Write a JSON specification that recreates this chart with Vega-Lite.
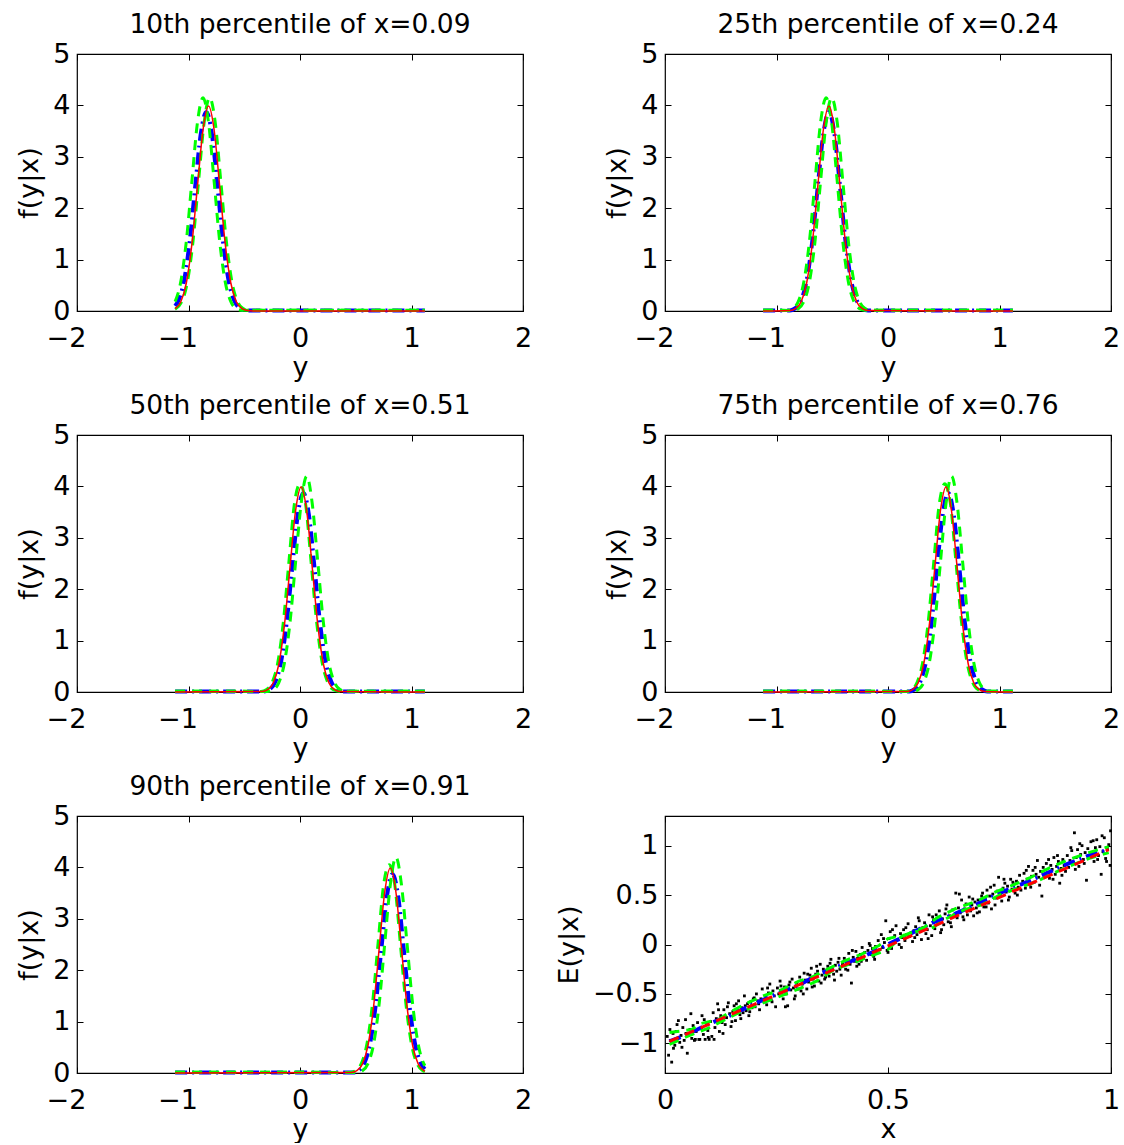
{
"$schema":"https://vega.github.io/schema/vega-lite/v6.json",
"background":"white",
"padding":{"left":15,"top":10,"right":0,"bottom":0},
"columns":2,
"spacing":{"row":124,"column":142},
"bounds":"flush",
"config":{
 "font":"DejaVu Sans",
 "view":{"stroke":"black","strokeWidth":1.2},
 "axis":{"grid":false,"domain":false,"tickColor":"black","tickSize":-6,"tickWidth":1,"labelFont":"DejaVu Sans","labelFontSize":27,"labelColor":"black","titleFont":"DejaVu Sans","titleFontSize":27,"titleFontWeight":"normal","titleColor":"black","labelFlush":false,"labelOverlap":false,"labelBound":false},
 "axisX":{"labelPadding":20,"titlePadding":3},
 "axisY":{"labelPadding":13,"titlePadding":9},
 "title":{"font":"DejaVu Sans","fontSize":26.5,"fontWeight":"normal","color":"black","baseline":"alphabetic","offset":2,"frame":"group"}
},
"datasets":{
"dens":[
{"p":1,"s":"est","y":-1.12,"f":0.096},{"p":1,"s":"est","y":-1.09,"f":0.204},{"p":1,"s":"est","y":-1.04,"f":0.588},{"p":1,"s":"est","y":-0.99,"f":1.341},{"p":1,"s":"est","y":-0.94,"f":2.418},{"p":1,"s":"est","y":-0.89,"f":3.443},{"p":1,"s":"est","y":-0.84,"f":3.873},{"p":1,"s":"est","y":-0.79,"f":3.443},{"p":1,"s":"est","y":-0.74,"f":2.418},{"p":1,"s":"est","y":-0.69,"f":1.341},{"p":1,"s":"est","y":-0.64,"f":0.588},{"p":1,"s":"est","y":-0.59,"f":0.204},{"p":1,"s":"est","y":-0.54,"f":0.056},{"p":1,"s":"est","y":-0.49,"f":0.012},{"p":1,"s":"est","y":-0.44,"f":0.01},{"p":1,"s":"est","y":1.12,"f":0.01},
{"p":1,"s":"lo","y":-1.12,"f":0.182},{"p":1,"s":"lo","y":-1.07,"f":0.562},{"p":1,"s":"lo","y":-1.02,"f":1.347},{"p":1,"s":"lo","y":-0.97,"f":2.517},{"p":1,"s":"lo","y":-0.92,"f":3.662},{"p":1,"s":"lo","y":-0.87,"f":4.149},{"p":1,"s":"lo","y":-0.82,"f":3.662},{"p":1,"s":"lo","y":-0.77,"f":2.517},{"p":1,"s":"lo","y":-0.72,"f":1.347},{"p":1,"s":"lo","y":-0.67,"f":0.562},{"p":1,"s":"lo","y":-0.62,"f":0.182},{"p":1,"s":"lo","y":-0.57,"f":0.046},{"p":1,"s":"lo","y":-0.52,"f":0.015},{"p":1,"s":"lo","y":1.12,"f":0.015},
{"p":1,"s":"hi","y":-1.12,"f":0.034},{"p":1,"s":"hi","y":-1.06,"f":0.182},{"p":1,"s":"hi","y":-1.01,"f":0.562},{"p":1,"s":"hi","y":-0.96,"f":1.347},{"p":1,"s":"hi","y":-0.91,"f":2.517},{"p":1,"s":"hi","y":-0.86,"f":3.662},{"p":1,"s":"hi","y":-0.81,"f":4.149},{"p":1,"s":"hi","y":-0.76,"f":3.662},{"p":1,"s":"hi","y":-0.71,"f":2.517},{"p":1,"s":"hi","y":-0.66,"f":1.347},{"p":1,"s":"hi","y":-0.61,"f":0.562},{"p":1,"s":"hi","y":-0.56,"f":0.182},{"p":1,"s":"hi","y":-0.51,"f":0.046},{"p":1,"s":"hi","y":-0.46,"f":0.015},{"p":1,"s":"hi","y":1.12,"f":0.015},
{"p":1,"s":"true","y":-1.12,"f":0.044},{"p":1,"s":"true","y":-1.07,"f":0.175},{"p":1,"s":"true","y":-1.02,"f":0.54},{"p":1,"s":"true","y":-0.97,"f":1.295},{"p":1,"s":"true","y":-0.92,"f":2.42},{"p":1,"s":"true","y":-0.87,"f":3.521},{"p":1,"s":"true","y":-0.82,"f":3.989},{"p":1,"s":"true","y":-0.77,"f":3.521},{"p":1,"s":"true","y":-0.72,"f":2.42},{"p":1,"s":"true","y":-0.67,"f":1.295},{"p":1,"s":"true","y":-0.62,"f":0.54},{"p":1,"s":"true","y":-0.57,"f":0.175},{"p":1,"s":"true","y":-0.52,"f":0.044},{"p":1,"s":"true","y":-0.47,"f":0.009},{"p":1,"s":"true","y":-0.42,"f":0.001},{"p":1,"s":"true","y":1.12,"f":0},

{"p":2,"s":"est","y":-1.12,"f":0.01},{"p":2,"s":"est","y":-0.88,"f":0.012},{"p":2,"s":"est","y":-0.83,"f":0.056},{"p":2,"s":"est","y":-0.78,"f":0.204},{"p":2,"s":"est","y":-0.73,"f":0.588},{"p":2,"s":"est","y":-0.68,"f":1.341},{"p":2,"s":"est","y":-0.63,"f":2.418},{"p":2,"s":"est","y":-0.58,"f":3.443},{"p":2,"s":"est","y":-0.53,"f":3.873},{"p":2,"s":"est","y":-0.48,"f":3.443},{"p":2,"s":"est","y":-0.43,"f":2.418},{"p":2,"s":"est","y":-0.38,"f":1.341},{"p":2,"s":"est","y":-0.33,"f":0.588},{"p":2,"s":"est","y":-0.28,"f":0.204},{"p":2,"s":"est","y":-0.23,"f":0.056},{"p":2,"s":"est","y":-0.18,"f":0.012},{"p":2,"s":"est","y":1.12,"f":0.01},
{"p":2,"s":"lo","y":-1.12,"f":0.015},{"p":2,"s":"lo","y":-0.905,"f":0.012},{"p":2,"s":"lo","y":-0.855,"f":0.046},{"p":2,"s":"lo","y":-0.805,"f":0.182},{"p":2,"s":"lo","y":-0.755,"f":0.562},{"p":2,"s":"lo","y":-0.705,"f":1.347},{"p":2,"s":"lo","y":-0.655,"f":2.517},{"p":2,"s":"lo","y":-0.605,"f":3.662},{"p":2,"s":"lo","y":-0.555,"f":4.149},{"p":2,"s":"lo","y":-0.505,"f":3.662},{"p":2,"s":"lo","y":-0.455,"f":2.517},{"p":2,"s":"lo","y":-0.405,"f":1.347},{"p":2,"s":"lo","y":-0.355,"f":0.562},{"p":2,"s":"lo","y":-0.305,"f":0.182},{"p":2,"s":"lo","y":-0.255,"f":0.046},{"p":2,"s":"lo","y":-0.205,"f":0.015},{"p":2,"s":"lo","y":1.12,"f":0.015},
{"p":2,"s":"hi","y":-1.12,"f":0.015},{"p":2,"s":"hi","y":-0.855,"f":0.012},{"p":2,"s":"hi","y":-0.805,"f":0.046},{"p":2,"s":"hi","y":-0.755,"f":0.182},{"p":2,"s":"hi","y":-0.705,"f":0.562},{"p":2,"s":"hi","y":-0.655,"f":1.347},{"p":2,"s":"hi","y":-0.605,"f":2.517},{"p":2,"s":"hi","y":-0.555,"f":3.662},{"p":2,"s":"hi","y":-0.505,"f":4.149},{"p":2,"s":"hi","y":-0.455,"f":3.662},{"p":2,"s":"hi","y":-0.405,"f":2.517},{"p":2,"s":"hi","y":-0.355,"f":1.347},{"p":2,"s":"hi","y":-0.305,"f":0.562},{"p":2,"s":"hi","y":-0.255,"f":0.182},{"p":2,"s":"hi","y":-0.205,"f":0.046},{"p":2,"s":"hi","y":-0.155,"f":0.015},{"p":2,"s":"hi","y":1.12,"f":0.015},
{"p":2,"s":"true","y":-1.12,"f":0},{"p":2,"s":"true","y":-0.88,"f":0.009},{"p":2,"s":"true","y":-0.83,"f":0.044},{"p":2,"s":"true","y":-0.78,"f":0.175},{"p":2,"s":"true","y":-0.73,"f":0.54},{"p":2,"s":"true","y":-0.68,"f":1.295},{"p":2,"s":"true","y":-0.63,"f":2.42},{"p":2,"s":"true","y":-0.58,"f":3.521},{"p":2,"s":"true","y":-0.53,"f":3.989},{"p":2,"s":"true","y":-0.48,"f":3.521},{"p":2,"s":"true","y":-0.43,"f":2.42},{"p":2,"s":"true","y":-0.38,"f":1.295},{"p":2,"s":"true","y":-0.33,"f":0.54},{"p":2,"s":"true","y":-0.28,"f":0.175},{"p":2,"s":"true","y":-0.23,"f":0.044},{"p":2,"s":"true","y":-0.18,"f":0.009},{"p":2,"s":"true","y":1.12,"f":0},

{"p":3,"s":"est","y":-1.12,"f":0.01},{"p":3,"s":"est","y":-0.32,"f":0.012},{"p":3,"s":"est","y":-0.27,"f":0.056},{"p":3,"s":"est","y":-0.22,"f":0.204},{"p":3,"s":"est","y":-0.17,"f":0.588},{"p":3,"s":"est","y":-0.12,"f":1.341},{"p":3,"s":"est","y":-0.07,"f":2.418},{"p":3,"s":"est","y":-0.02,"f":3.443},{"p":3,"s":"est","y":0.03,"f":3.873},{"p":3,"s":"est","y":0.08,"f":3.443},{"p":3,"s":"est","y":0.13,"f":2.418},{"p":3,"s":"est","y":0.18,"f":1.341},{"p":3,"s":"est","y":0.23,"f":0.588},{"p":3,"s":"est","y":0.28,"f":0.204},{"p":3,"s":"est","y":0.33,"f":0.056},{"p":3,"s":"est","y":0.38,"f":0.012},{"p":3,"s":"est","y":1.12,"f":0.01},
{"p":3,"s":"lo","y":-1.12,"f":0.015},{"p":3,"s":"lo","y":-0.35,"f":0.012},{"p":3,"s":"lo","y":-0.3,"f":0.046},{"p":3,"s":"lo","y":-0.25,"f":0.182},{"p":3,"s":"lo","y":-0.2,"f":0.562},{"p":3,"s":"lo","y":-0.15,"f":1.347},{"p":3,"s":"lo","y":-0.1,"f":2.517},{"p":3,"s":"lo","y":-0.05,"f":3.662},{"p":3,"s":"lo","y":0.0,"f":4.05},{"p":3,"s":"lo","y":0.05,"f":3.662},{"p":3,"s":"lo","y":0.1,"f":2.517},{"p":3,"s":"lo","y":0.15,"f":1.347},{"p":3,"s":"lo","y":0.2,"f":0.562},{"p":3,"s":"lo","y":0.25,"f":0.182},{"p":3,"s":"lo","y":0.3,"f":0.046},{"p":3,"s":"lo","y":0.35,"f":0.015},{"p":3,"s":"lo","y":1.12,"f":0.015},
{"p":3,"s":"hi","y":-1.12,"f":0.015},{"p":3,"s":"hi","y":-0.29,"f":0.012},{"p":3,"s":"hi","y":-0.24,"f":0.046},{"p":3,"s":"hi","y":-0.19,"f":0.182},{"p":3,"s":"hi","y":-0.14,"f":0.562},{"p":3,"s":"hi","y":-0.09,"f":1.347},{"p":3,"s":"hi","y":-0.04,"f":2.517},{"p":3,"s":"hi","y":0.01,"f":3.662},{"p":3,"s":"hi","y":0.06,"f":4.2},{"p":3,"s":"hi","y":0.11,"f":3.662},{"p":3,"s":"hi","y":0.16,"f":2.517},{"p":3,"s":"hi","y":0.21,"f":1.347},{"p":3,"s":"hi","y":0.26,"f":0.562},{"p":3,"s":"hi","y":0.31,"f":0.182},{"p":3,"s":"hi","y":0.36,"f":0.046},{"p":3,"s":"hi","y":0.41,"f":0.015},{"p":3,"s":"hi","y":1.12,"f":0.015},
{"p":3,"s":"true","y":-1.12,"f":0},{"p":3,"s":"true","y":-0.34,"f":0.009},{"p":3,"s":"true","y":-0.29,"f":0.044},{"p":3,"s":"true","y":-0.24,"f":0.175},{"p":3,"s":"true","y":-0.19,"f":0.54},{"p":3,"s":"true","y":-0.14,"f":1.295},{"p":3,"s":"true","y":-0.09,"f":2.42},{"p":3,"s":"true","y":-0.04,"f":3.521},{"p":3,"s":"true","y":0.01,"f":3.989},{"p":3,"s":"true","y":0.06,"f":3.521},{"p":3,"s":"true","y":0.11,"f":2.42},{"p":3,"s":"true","y":0.16,"f":1.295},{"p":3,"s":"true","y":0.21,"f":0.54},{"p":3,"s":"true","y":0.26,"f":0.175},{"p":3,"s":"true","y":0.31,"f":0.044},{"p":3,"s":"true","y":0.36,"f":0.009},{"p":3,"s":"true","y":1.12,"f":0},

{"p":4,"s":"est","y":-1.12,"f":0.01},{"p":4,"s":"est","y":0.19,"f":0.012},{"p":4,"s":"est","y":0.24,"f":0.056},{"p":4,"s":"est","y":0.29,"f":0.204},{"p":4,"s":"est","y":0.34,"f":0.588},{"p":4,"s":"est","y":0.39,"f":1.341},{"p":4,"s":"est","y":0.44,"f":2.418},{"p":4,"s":"est","y":0.49,"f":3.443},{"p":4,"s":"est","y":0.54,"f":3.873},{"p":4,"s":"est","y":0.59,"f":3.443},{"p":4,"s":"est","y":0.64,"f":2.418},{"p":4,"s":"est","y":0.69,"f":1.341},{"p":4,"s":"est","y":0.74,"f":0.588},{"p":4,"s":"est","y":0.79,"f":0.204},{"p":4,"s":"est","y":0.84,"f":0.056},{"p":4,"s":"est","y":0.89,"f":0.012},{"p":4,"s":"est","y":1.12,"f":0.01},
{"p":4,"s":"lo","y":-1.12,"f":0.015},{"p":4,"s":"lo","y":0.16,"f":0.012},{"p":4,"s":"lo","y":0.21,"f":0.046},{"p":4,"s":"lo","y":0.26,"f":0.182},{"p":4,"s":"lo","y":0.31,"f":0.562},{"p":4,"s":"lo","y":0.36,"f":1.347},{"p":4,"s":"lo","y":0.41,"f":2.517},{"p":4,"s":"lo","y":0.46,"f":3.662},{"p":4,"s":"lo","y":0.51,"f":4.05},{"p":4,"s":"lo","y":0.56,"f":3.662},{"p":4,"s":"lo","y":0.61,"f":2.517},{"p":4,"s":"lo","y":0.66,"f":1.347},{"p":4,"s":"lo","y":0.71,"f":0.562},{"p":4,"s":"lo","y":0.76,"f":0.182},{"p":4,"s":"lo","y":0.81,"f":0.046},{"p":4,"s":"lo","y":0.86,"f":0.015},{"p":4,"s":"lo","y":1.12,"f":0.015},
{"p":4,"s":"hi","y":-1.12,"f":0.015},{"p":4,"s":"hi","y":0.22,"f":0.012},{"p":4,"s":"hi","y":0.27,"f":0.046},{"p":4,"s":"hi","y":0.32,"f":0.182},{"p":4,"s":"hi","y":0.37,"f":0.562},{"p":4,"s":"hi","y":0.42,"f":1.347},{"p":4,"s":"hi","y":0.47,"f":2.517},{"p":4,"s":"hi","y":0.52,"f":3.662},{"p":4,"s":"hi","y":0.57,"f":4.2},{"p":4,"s":"hi","y":0.62,"f":3.662},{"p":4,"s":"hi","y":0.67,"f":2.517},{"p":4,"s":"hi","y":0.72,"f":1.347},{"p":4,"s":"hi","y":0.77,"f":0.562},{"p":4,"s":"hi","y":0.82,"f":0.182},{"p":4,"s":"hi","y":0.87,"f":0.046},{"p":4,"s":"hi","y":0.92,"f":0.015},{"p":4,"s":"hi","y":1.12,"f":0.015},
{"p":4,"s":"true","y":-1.12,"f":0},{"p":4,"s":"true","y":0.17,"f":0.009},{"p":4,"s":"true","y":0.22,"f":0.044},{"p":4,"s":"true","y":0.27,"f":0.175},{"p":4,"s":"true","y":0.32,"f":0.54},{"p":4,"s":"true","y":0.37,"f":1.295},{"p":4,"s":"true","y":0.42,"f":2.42},{"p":4,"s":"true","y":0.47,"f":3.521},{"p":4,"s":"true","y":0.52,"f":3.989},{"p":4,"s":"true","y":0.57,"f":3.521},{"p":4,"s":"true","y":0.62,"f":2.42},{"p":4,"s":"true","y":0.67,"f":1.295},{"p":4,"s":"true","y":0.72,"f":0.54},{"p":4,"s":"true","y":0.77,"f":0.175},{"p":4,"s":"true","y":0.82,"f":0.044},{"p":4,"s":"true","y":0.87,"f":0.009},{"p":4,"s":"true","y":1.12,"f":0},

{"p":5,"s":"est","y":-1.12,"f":0.01},{"p":5,"s":"est","y":0.48,"f":0.012},{"p":5,"s":"est","y":0.53,"f":0.056},{"p":5,"s":"est","y":0.58,"f":0.204},{"p":5,"s":"est","y":0.63,"f":0.588},{"p":5,"s":"est","y":0.68,"f":1.341},{"p":5,"s":"est","y":0.73,"f":2.418},{"p":5,"s":"est","y":0.78,"f":3.443},{"p":5,"s":"est","y":0.83,"f":3.873},{"p":5,"s":"est","y":0.88,"f":3.443},{"p":5,"s":"est","y":0.93,"f":2.418},{"p":5,"s":"est","y":0.98,"f":1.341},{"p":5,"s":"est","y":1.03,"f":0.588},{"p":5,"s":"est","y":1.08,"f":0.204},{"p":5,"s":"est","y":1.12,"f":0.074},
{"p":5,"s":"lo","y":-1.12,"f":0.015},{"p":5,"s":"lo","y":0.45,"f":0.012},{"p":5,"s":"lo","y":0.5,"f":0.046},{"p":5,"s":"lo","y":0.55,"f":0.182},{"p":5,"s":"lo","y":0.6,"f":0.562},{"p":5,"s":"lo","y":0.65,"f":1.347},{"p":5,"s":"lo","y":0.7,"f":2.517},{"p":5,"s":"lo","y":0.75,"f":3.662},{"p":5,"s":"lo","y":0.8,"f":4.05},{"p":5,"s":"lo","y":0.85,"f":3.662},{"p":5,"s":"lo","y":0.9,"f":2.517},{"p":5,"s":"lo","y":0.95,"f":1.347},{"p":5,"s":"lo","y":1.0,"f":0.562},{"p":5,"s":"lo","y":1.05,"f":0.182},{"p":5,"s":"lo","y":1.1,"f":0.046},{"p":5,"s":"lo","y":1.12,"f":0.025},
{"p":5,"s":"hi","y":-1.12,"f":0.015},{"p":5,"s":"hi","y":0.51,"f":0.012},{"p":5,"s":"hi","y":0.56,"f":0.046},{"p":5,"s":"hi","y":0.61,"f":0.182},{"p":5,"s":"hi","y":0.66,"f":0.562},{"p":5,"s":"hi","y":0.71,"f":1.347},{"p":5,"s":"hi","y":0.76,"f":2.517},{"p":5,"s":"hi","y":0.81,"f":3.662},{"p":5,"s":"hi","y":0.86,"f":4.2},{"p":5,"s":"hi","y":0.91,"f":3.662},{"p":5,"s":"hi","y":0.96,"f":2.517},{"p":5,"s":"hi","y":1.01,"f":1.347},{"p":5,"s":"hi","y":1.06,"f":0.562},{"p":5,"s":"hi","y":1.11,"f":0.182},{"p":5,"s":"hi","y":1.12,"f":0.141},
{"p":5,"s":"true","y":-1.12,"f":0},{"p":5,"s":"true","y":0.46,"f":0.009},{"p":5,"s":"true","y":0.51,"f":0.044},{"p":5,"s":"true","y":0.56,"f":0.175},{"p":5,"s":"true","y":0.61,"f":0.54},{"p":5,"s":"true","y":0.66,"f":1.295},{"p":5,"s":"true","y":0.71,"f":2.42},{"p":5,"s":"true","y":0.76,"f":3.521},{"p":5,"s":"true","y":0.81,"f":3.989},{"p":5,"s":"true","y":0.86,"f":3.521},{"p":5,"s":"true","y":0.91,"f":2.42},{"p":5,"s":"true","y":0.96,"f":1.295},{"p":5,"s":"true","y":1.01,"f":0.54},{"p":5,"s":"true","y":1.06,"f":0.175},{"p":5,"s":"true","y":1.11,"f":0.044},{"p":5,"s":"true","y":1.12,"f":0.033}
],
"pts":[
{"x":0.005,"y":-0.93},{"x":0.008,"y":-1.12},{"x":0.012,"y":-0.97},{"x":0.015,"y":-1.19},{"x":0.018,"y":-0.9},{"x":0.022,"y":-1.02},{"x":0.025,"y":-0.88},{"x":0.028,"y":-0.95},{"x":0.03,"y":-0.77},{"x":0.033,"y":-0.99},{"x":0.036,"y":-0.92},{"x":0.04,"y":-0.84},{"x":0.043,"y":-0.97},{"x":0.046,"y":-0.76},{"x":0.05,"y":-1.1},{"x":0.053,"y":-0.9},{"x":0.056,"y":-0.86},{"x":0.06,"y":-0.95},{"x":0.063,"y":-0.82},{"x":0.066,"y":-0.97},{"x":0.07,"y":-0.88},{"x":0.073,"y":-0.79},{"x":0.076,"y":-0.96},{"x":0.08,"y":-0.85},{"x":0.083,"y":-0.72},{"x":0.086,"y":-0.91},{"x":0.09,"y":-0.96},{"x":0.093,"y":-0.8},{"x":0.096,"y":-0.87},{"x":0.099,"y":-0.96},
{"x":0.102,"y":-0.78},{"x":0.105,"y":-0.93},{"x":0.108,"y":-0.69},{"x":0.112,"y":-0.84},{"x":0.115,"y":-0.75},{"x":0.118,"y":-0.6},{"x":0.122,"y":-0.88},{"x":0.125,"y":-0.72},{"x":0.128,"y":-0.79},{"x":0.132,"y":-0.66},{"x":0.135,"y":-0.81},{"x":0.138,"y":-0.74},{"x":0.142,"y":-0.59},{"x":0.145,"y":-0.7},{"x":0.148,"y":-0.83},{"x":0.152,"y":-0.68},{"x":0.155,"y":-0.62},{"x":0.158,"y":-0.77},{"x":0.162,"y":-0.66},{"x":0.165,"y":-0.57},{"x":0.168,"y":-0.71},{"x":0.172,"y":-0.64},{"x":0.175,"y":-0.69},{"x":0.178,"y":-0.52},{"x":0.182,"y":-0.67},{"x":0.185,"y":-0.6},{"x":0.188,"y":-0.72},{"x":0.192,"y":-0.58},{"x":0.195,"y":-0.64},{"x":0.198,"y":-0.55},
{"x":0.202,"y":-0.63},{"x":0.205,"y":-0.5},{"x":0.208,"y":-0.57},{"x":0.212,"y":-0.66},{"x":0.215,"y":-0.55},{"x":0.218,"y":-0.45},{"x":0.222,"y":-0.58},{"x":0.225,"y":-0.52},{"x":0.228,"y":-0.61},{"x":0.232,"y":-0.49},{"x":0.235,"y":-0.4},{"x":0.238,"y":-0.56},{"x":0.242,"y":-0.47},{"x":0.245,"y":-0.52},{"x":0.248,"y":-0.63},{"x":0.252,"y":-0.44},{"x":0.255,"y":-0.5},{"x":0.258,"y":-0.37},{"x":0.262,"y":-0.48},{"x":0.265,"y":-0.55},{"x":0.268,"y":-0.43},{"x":0.272,"y":-0.5},{"x":0.275,"y":-0.62},{"x":0.278,"y":-0.41},{"x":0.282,"y":-0.46},{"x":0.285,"y":-0.35},{"x":0.288,"y":-0.44},{"x":0.292,"y":-0.52},{"x":0.295,"y":-0.39},{"x":0.298,"y":-0.45},
{"x":0.302,"y":-0.33},{"x":0.305,"y":-0.47},{"x":0.308,"y":-0.4},{"x":0.312,"y":-0.29},{"x":0.315,"y":-0.36},{"x":0.318,"y":-0.45},{"x":0.322,"y":-0.38},{"x":0.325,"y":-0.31},{"x":0.328,"y":-0.24},{"x":0.332,"y":-0.35},{"x":0.335,"y":-0.42},{"x":0.338,"y":-0.3},{"x":0.342,"y":-0.27},{"x":0.345,"y":-0.37},{"x":0.348,"y":-0.2},{"x":0.352,"y":-0.31},{"x":0.355,"y":-0.25},{"x":0.358,"y":-0.35},{"x":0.362,"y":-0.28},{"x":0.365,"y":-0.22},{"x":0.368,"y":-0.32},{"x":0.372,"y":-0.15},{"x":0.375,"y":-0.26},{"x":0.378,"y":-0.3},{"x":0.382,"y":-0.21},{"x":0.385,"y":-0.27},{"x":0.388,"y":-0.18},{"x":0.392,"y":-0.25},{"x":0.395,"y":-0.31},{"x":0.398,"y":-0.2},
{"x":0.402,"y":-0.14},{"x":0.405,"y":-0.25},{"x":0.408,"y":-0.18},{"x":0.412,"y":-0.09},{"x":0.415,"y":-0.2},{"x":0.418,"y":-0.39},{"x":0.422,"y":-0.13},{"x":0.425,"y":-0.17},{"x":0.428,"y":-0.07},{"x":0.432,"y":-0.14},{"x":0.435,"y":-0.2},{"x":0.438,"y":-0.1},{"x":0.442,"y":-0.03},{"x":0.445,"y":-0.13},{"x":0.448,"y":-0.08},{"x":0.452,"y":-0.16},{"x":0.455,"y":-0.06},{"x":0.458,"y":0.01},{"x":0.462,"y":-0.1},{"x":0.465,"y":-0.04},{"x":0.468,"y":-0.12},{"x":0.472,"y":-0.02},{"x":0.475,"y":-0.07},{"x":0.478,"y":0.04},{"x":0.482,"y":-0.05},{"x":0.485,"y":0.1},{"x":0.488,"y":-0.03},{"x":0.492,"y":0.02},{"x":0.495,"y":0.24},{"x":0.498,"y":-0.06},
{"x":0.502,"y":0.06},{"x":0.505,"y":0.13},{"x":0.508,"y":-0.04},{"x":0.512,"y":0.03},{"x":0.515,"y":0.09},{"x":0.518,"y":0.19},{"x":0.522,"y":0.05},{"x":0.525,"y":0.0},{"x":0.528,"y":0.11},{"x":0.532,"y":0.07},{"x":0.535,"y":0.15},{"x":0.538,"y":0.04},{"x":0.542,"y":0.1},{"x":0.545,"y":0.21},{"x":0.548,"y":0.08},{"x":0.552,"y":0.12},{"x":0.555,"y":0.03},{"x":0.558,"y":0.14},{"x":0.562,"y":0.18},{"x":0.565,"y":0.1},{"x":0.568,"y":0.27},{"x":0.572,"y":0.13},{"x":0.575,"y":0.05},{"x":0.578,"y":0.17},{"x":0.582,"y":0.22},{"x":0.585,"y":0.11},{"x":0.588,"y":0.15},{"x":0.592,"y":0.3},{"x":0.595,"y":0.19},{"x":0.598,"y":0.09},
{"x":0.602,"y":0.25},{"x":0.605,"y":0.16},{"x":0.608,"y":0.3},{"x":0.612,"y":0.21},{"x":0.615,"y":0.34},{"x":0.618,"y":0.12},{"x":0.622,"y":0.26},{"x":0.625,"y":0.2},{"x":0.628,"y":0.31},{"x":0.632,"y":0.4},{"x":0.635,"y":0.23},{"x":0.638,"y":0.29},{"x":0.642,"y":0.18},{"x":0.645,"y":0.35},{"x":0.648,"y":0.3},{"x":0.652,"y":0.52},{"x":0.655,"y":0.27},{"x":0.658,"y":0.37},{"x":0.662,"y":0.32},{"x":0.665,"y":0.45},{"x":0.668,"y":0.28},{"x":0.672,"y":0.36},{"x":0.675,"y":0.41},{"x":0.678,"y":0.3},{"x":0.682,"y":0.48},{"x":0.685,"y":0.34},{"x":0.688,"y":0.4},{"x":0.692,"y":0.29},{"x":0.695,"y":0.43},{"x":0.698,"y":0.37},
{"x":0.702,"y":0.45},{"x":0.705,"y":0.33},{"x":0.708,"y":0.41},{"x":0.712,"y":0.52},{"x":0.715,"y":0.38},{"x":0.718,"y":0.46},{"x":0.722,"y":0.55},{"x":0.725,"y":0.42},{"x":0.728,"y":0.49},{"x":0.732,"y":0.36},{"x":0.735,"y":0.51},{"x":0.738,"y":0.6},{"x":0.742,"y":0.47},{"x":0.745,"y":0.54},{"x":0.748,"y":0.68},{"x":0.752,"y":0.5},{"x":0.755,"y":0.44},{"x":0.758,"y":0.57},{"x":0.762,"y":0.62},{"x":0.765,"y":0.53},{"x":0.768,"y":0.59},{"x":0.772,"y":0.48},{"x":0.775,"y":0.66},{"x":0.778,"y":0.56},{"x":0.782,"y":0.61},{"x":0.785,"y":0.52},{"x":0.788,"y":0.64},{"x":0.792,"y":0.58},{"x":0.795,"y":0.7},{"x":0.798,"y":0.55},
{"x":0.802,"y":0.64},{"x":0.805,"y":0.72},{"x":0.808,"y":0.57},{"x":0.812,"y":0.66},{"x":0.815,"y":0.79},{"x":0.818,"y":0.61},{"x":0.822,"y":0.69},{"x":0.825,"y":0.75},{"x":0.828,"y":0.63},{"x":0.832,"y":0.71},{"x":0.835,"y":0.85},{"x":0.838,"y":0.68},{"x":0.842,"y":0.74},{"x":0.845,"y":0.49},{"x":0.848,"y":0.78},{"x":0.852,"y":0.7},{"x":0.855,"y":0.82},{"x":0.858,"y":0.73},{"x":0.862,"y":0.67},{"x":0.865,"y":0.8},{"x":0.868,"y":0.76},{"x":0.872,"y":0.88},{"x":0.875,"y":0.71},{"x":0.878,"y":0.79},{"x":0.882,"y":0.84},{"x":0.885,"y":0.62},{"x":0.888,"y":0.77},{"x":0.892,"y":0.86},{"x":0.895,"y":0.8},{"x":0.898,"y":0.74},
{"x":0.902,"y":0.9},{"x":0.905,"y":0.78},{"x":0.908,"y":0.85},{"x":0.912,"y":0.95},{"x":0.915,"y":0.83},{"x":0.918,"y":1.13},{"x":0.922,"y":0.88},{"x":0.925,"y":0.96},{"x":0.928,"y":0.79},{"x":0.932,"y":0.91},{"x":0.935,"y":1.0},{"x":0.938,"y":0.86},{"x":0.942,"y":0.93},{"x":0.945,"y":0.65},{"x":0.948,"y":0.97},{"x":0.952,"y":0.89},{"x":0.955,"y":1.04},{"x":0.958,"y":0.92},{"x":0.962,"y":0.84},{"x":0.965,"y":0.98},{"x":0.968,"y":1.06},{"x":0.972,"y":0.9},{"x":0.975,"y":0.99},{"x":0.978,"y":0.71},{"x":0.982,"y":0.94},{"x":0.985,"y":1.08},{"x":0.988,"y":0.87},{"x":0.992,"y":0.96},{"x":0.995,"y":1.01},{"x":0.998,"y":0.8},{"x":0.999,"y":1.15},
{"x":0.011,"y":-0.86},{"x":0.019,"y":-1.05},{"x":0.027,"y":-0.81},{"x":0.038,"y":-1.04},{"x":0.047,"y":-0.9},{"x":0.058,"y":-0.7},{"x":0.068,"y":-0.96},{"x":0.078,"y":-0.96},{"x":0.088,"y":-0.76},{"x":0.097,"y":-0.94},{"x":0.11,"y":-0.96},{"x":0.12,"y":-0.66},{"x":0.13,"y":-0.9},{"x":0.14,"y":-0.63},{"x":0.15,"y":-0.78},{"x":0.16,"y":-0.6},{"x":0.17,"y":-0.75},{"x":0.18,"y":-0.62},{"x":0.19,"y":-0.68},{"x":0.2,"y":-0.54},{"x":0.21,"y":-0.6},{"x":0.23,"y":-0.44},{"x":0.24,"y":-0.58},{"x":0.26,"y":-0.42},{"x":0.27,"y":-0.63},{"x":0.28,"y":-0.38},{"x":0.29,"y":-0.55},{"x":0.31,"y":-0.5},{"x":0.32,"y":-0.3},{"x":0.33,"y":-0.43},{"x":0.34,"y":-0.22},{"x":0.35,"y":-0.39},{"x":0.36,"y":-0.33},{"x":0.37,"y":-0.19},{"x":0.38,"y":-0.36},{"x":0.39,"y":-0.14},{"x":0.41,"y":-0.26},{"x":0.42,"y":-0.06},{"x":0.43,"y":-0.22},{"x":0.44,"y":-0.17},{"x":0.46,"y":-0.01},{"x":0.47,"y":-0.15},{"x":0.49,"y":0.06},{"x":0.5,"y":-0.08},{"x":0.51,"y":0.15},{"x":0.53,"y":-0.03},{"x":0.54,"y":0.17},{"x":0.56,"y":0.07},{"x":0.57,"y":0.24},{"x":0.59,"y":0.06},{"x":0.6,"y":0.28},{"x":0.62,"y":0.15},{"x":0.63,"y":0.36},{"x":0.64,"y":0.22},{"x":0.66,"y":0.51},{"x":0.67,"y":0.25},{"x":0.69,"y":0.46},{"x":0.7,"y":0.32},{"x":0.71,"y":0.49},{"x":0.72,"y":0.38},{"x":0.73,"y":0.58},{"x":0.74,"y":0.4},{"x":0.76,"y":0.66},{"x":0.77,"y":0.45},{"x":0.78,"y":0.63},{"x":0.79,"y":0.5},{"x":0.81,"y":0.75},{"x":0.82,"y":0.58},{"x":0.83,"y":0.78},{"x":0.84,"y":0.6},{"x":0.86,"y":0.86},{"x":0.87,"y":0.66},{"x":0.88,"y":0.9},{"x":0.89,"y":0.7},{"x":0.91,"y":0.98},{"x":0.92,"y":0.76},{"x":0.93,"y":1.02},{"x":0.94,"y":0.82},{"x":0.96,"y":1.05},{"x":0.97,"y":0.86},{"x":0.98,"y":1.1},{"x":0.99,"y":0.84}
],
"fit":[
{"s":"est","x":0.01,"y":-0.98},{"s":"est","x":0.05,"y":-0.91},{"s":"est","x":0.1,"y":-0.8},{"s":"est","x":0.15,"y":-0.71},{"s":"est","x":0.2,"y":-0.6},{"s":"est","x":0.25,"y":-0.5},{"s":"est","x":0.3,"y":-0.41},{"s":"est","x":0.35,"y":-0.29},{"s":"est","x":0.4,"y":-0.2},{"s":"est","x":0.45,"y":-0.11},{"s":"est","x":0.5,"y":0.0},{"s":"est","x":0.55,"y":0.11},{"s":"est","x":0.6,"y":0.22},{"s":"est","x":0.65,"y":0.31},{"s":"est","x":0.7,"y":0.41},{"s":"est","x":0.75,"y":0.52},{"s":"est","x":0.8,"y":0.61},{"s":"est","x":0.85,"y":0.71},{"s":"est","x":0.9,"y":0.81},{"s":"est","x":0.95,"y":0.9},{"s":"est","x":0.995,"y":0.96},
{"s":"hi","x":0.01,"y":-0.89},{"s":"hi","x":0.06,"y":-0.86},{"s":"hi","x":0.08,"y":-0.8},{"s":"hi","x":0.12,"y":-0.76},{"s":"hi","x":0.14,"y":-0.7},{"s":"hi","x":0.18,"y":-0.6},{"s":"hi","x":0.22,"y":-0.52},{"s":"hi","x":0.26,"y":-0.46},{"s":"hi","x":0.3,"y":-0.37},{"s":"hi","x":0.33,"y":-0.33},{"s":"hi","x":0.36,"y":-0.26},{"s":"hi","x":0.4,"y":-0.17},{"s":"hi","x":0.44,"y":-0.1},{"s":"hi","x":0.48,"y":-0.01},{"s":"hi","x":0.5,"y":0.06},{"s":"hi","x":0.54,"y":0.1},{"s":"hi","x":0.58,"y":0.17},{"s":"hi","x":0.61,"y":0.27},{"s":"hi","x":0.65,"y":0.36},{"s":"hi","x":0.7,"y":0.44},{"s":"hi","x":0.74,"y":0.53},{"s":"hi","x":0.78,"y":0.6},{"s":"hi","x":0.82,"y":0.68},{"s":"hi","x":0.86,"y":0.77},{"s":"hi","x":0.9,"y":0.85},{"s":"hi","x":0.95,"y":0.93},{"s":"hi","x":0.995,"y":0.99},
{"s":"lo","x":0.01,"y":-1.01},{"s":"lo","x":0.05,"y":-0.93},{"s":"lo","x":0.1,"y":-0.84},{"s":"lo","x":0.13,"y":-0.77},{"s":"lo","x":0.17,"y":-0.68},{"s":"lo","x":0.22,"y":-0.59},{"s":"lo","x":0.26,"y":-0.52},{"s":"lo","x":0.3,"y":-0.45},{"s":"lo","x":0.34,"y":-0.37},{"s":"lo","x":0.38,"y":-0.25},{"s":"lo","x":0.42,"y":-0.19},{"s":"lo","x":0.46,"y":-0.12},{"s":"lo","x":0.5,"y":-0.05},{"s":"lo","x":0.53,"y":0.08},{"s":"lo","x":0.57,"y":0.14},{"s":"lo","x":0.6,"y":0.17},{"s":"lo","x":0.63,"y":0.26},{"s":"lo","x":0.67,"y":0.35},{"s":"lo","x":0.71,"y":0.4},{"s":"lo","x":0.75,"y":0.5},{"s":"lo","x":0.79,"y":0.57},{"s":"lo","x":0.83,"y":0.63},{"s":"lo","x":0.87,"y":0.72},{"s":"lo","x":0.9,"y":0.78},{"s":"lo","x":0.95,"y":0.87},{"s":"lo","x":0.995,"y":0.93},
{"s":"true","x":0.01,"y":-0.98},{"s":"true","x":0.995,"y":0.96}
]
},
"concat":[
{"width":446,"height":257,"title":{"text":"10th percentile of x=0.09"},"data":{"name":"dens"},"transform":[{"filter":"datum.p == 1"}],
 "layer":[
  {"transform":[{"filter":"datum.s == 'est'"}],"mark":{"type":"line","color":"#0000ff","strokeWidth":4,"strokeDash":[12,5,2,5],"interpolate":"monotone"},
   "encoding":{"x":{"field":"y","type":"quantitative","scale":{"domain":[-2,2],"nice":false,"zero":false},"axis":{"values":[-2,-1,0,1,2],"format":"~g","title":"y","labelOffset":{"condition":{"test":"datum.value < 0","value":-11},"value":0}}},
               "y":{"field":"f","type":"quantitative","scale":{"domain":[0,5],"nice":false},"axis":{"values":[0,1,2,3,4,5],"format":"~g","title":"f(y|x)"}}}},
  {"transform":[{"filter":"datum.s == 'lo' || datum.s == 'hi'"}],"mark":{"type":"line","color":"#00ff00","strokeWidth":3,"strokeDash":[10,7],"interpolate":"monotone"},
   "encoding":{"x":{"field":"y","type":"quantitative","scale":{"domain":[-2,2],"nice":false,"zero":false},"axis":null},"y":{"field":"f","type":"quantitative","scale":{"domain":[0,5],"nice":false},"axis":null},"detail":{"field":"s","type":"nominal"}}},
  {"transform":[{"filter":"datum.s == 'true'"}],"mark":{"type":"line","color":"#ff0000","strokeWidth":1.5,"interpolate":"monotone"},
   "encoding":{"x":{"field":"y","type":"quantitative","scale":{"domain":[-2,2],"nice":false,"zero":false},"axis":{"orient":"top","labels":false,"title":null,"values":[-2,-1,0,1,2]}},"y":{"field":"f","type":"quantitative","scale":{"domain":[0,5],"nice":false},"axis":{"orient":"right","labels":false,"title":null,"values":[0,1,2,3,4,5]}}}}
 ],
 "resolve":{"axis":{"x":"independent","y":"independent"}}},
{"width":446,"height":257,"title":{"text":"25th percentile of x=0.24"},"data":{"name":"dens"},"transform":[{"filter":"datum.p == 2"}],
 "layer":[
  {"transform":[{"filter":"datum.s == 'est'"}],"mark":{"type":"line","color":"#0000ff","strokeWidth":4,"strokeDash":[12,5,2,5],"interpolate":"monotone"},
   "encoding":{"x":{"field":"y","type":"quantitative","scale":{"domain":[-2,2],"nice":false,"zero":false},"axis":{"values":[-2,-1,0,1,2],"format":"~g","title":"y","labelOffset":{"condition":{"test":"datum.value < 0","value":-11},"value":0}}},
               "y":{"field":"f","type":"quantitative","scale":{"domain":[0,5],"nice":false},"axis":{"values":[0,1,2,3,4,5],"format":"~g","title":"f(y|x)"}}}},
  {"transform":[{"filter":"datum.s == 'lo' || datum.s == 'hi'"}],"mark":{"type":"line","color":"#00ff00","strokeWidth":3,"strokeDash":[10,7],"interpolate":"monotone"},
   "encoding":{"x":{"field":"y","type":"quantitative","scale":{"domain":[-2,2],"nice":false,"zero":false},"axis":null},"y":{"field":"f","type":"quantitative","scale":{"domain":[0,5],"nice":false},"axis":null},"detail":{"field":"s","type":"nominal"}}},
  {"transform":[{"filter":"datum.s == 'true'"}],"mark":{"type":"line","color":"#ff0000","strokeWidth":1.5,"interpolate":"monotone"},
   "encoding":{"x":{"field":"y","type":"quantitative","scale":{"domain":[-2,2],"nice":false,"zero":false},"axis":{"orient":"top","labels":false,"title":null,"values":[-2,-1,0,1,2]}},"y":{"field":"f","type":"quantitative","scale":{"domain":[0,5],"nice":false},"axis":{"orient":"right","labels":false,"title":null,"values":[0,1,2,3,4,5]}}}}
 ],
 "resolve":{"axis":{"x":"independent","y":"independent"}}},
{"width":446,"height":257,"title":{"text":"50th percentile of x=0.51"},"data":{"name":"dens"},"transform":[{"filter":"datum.p == 3"}],
 "layer":[
  {"transform":[{"filter":"datum.s == 'est'"}],"mark":{"type":"line","color":"#0000ff","strokeWidth":4,"strokeDash":[12,5,2,5],"interpolate":"monotone"},
   "encoding":{"x":{"field":"y","type":"quantitative","scale":{"domain":[-2,2],"nice":false,"zero":false},"axis":{"values":[-2,-1,0,1,2],"format":"~g","title":"y","labelOffset":{"condition":{"test":"datum.value < 0","value":-11},"value":0}}},
               "y":{"field":"f","type":"quantitative","scale":{"domain":[0,5],"nice":false},"axis":{"values":[0,1,2,3,4,5],"format":"~g","title":"f(y|x)"}}}},
  {"transform":[{"filter":"datum.s == 'lo' || datum.s == 'hi'"}],"mark":{"type":"line","color":"#00ff00","strokeWidth":3,"strokeDash":[10,7],"interpolate":"monotone"},
   "encoding":{"x":{"field":"y","type":"quantitative","scale":{"domain":[-2,2],"nice":false,"zero":false},"axis":null},"y":{"field":"f","type":"quantitative","scale":{"domain":[0,5],"nice":false},"axis":null},"detail":{"field":"s","type":"nominal"}}},
  {"transform":[{"filter":"datum.s == 'true'"}],"mark":{"type":"line","color":"#ff0000","strokeWidth":1.5,"interpolate":"monotone"},
   "encoding":{"x":{"field":"y","type":"quantitative","scale":{"domain":[-2,2],"nice":false,"zero":false},"axis":{"orient":"top","labels":false,"title":null,"values":[-2,-1,0,1,2]}},"y":{"field":"f","type":"quantitative","scale":{"domain":[0,5],"nice":false},"axis":{"orient":"right","labels":false,"title":null,"values":[0,1,2,3,4,5]}}}}
 ],
 "resolve":{"axis":{"x":"independent","y":"independent"}}},
{"width":446,"height":257,"title":{"text":"75th percentile of x=0.76"},"data":{"name":"dens"},"transform":[{"filter":"datum.p == 4"}],
 "layer":[
  {"transform":[{"filter":"datum.s == 'est'"}],"mark":{"type":"line","color":"#0000ff","strokeWidth":4,"strokeDash":[12,5,2,5],"interpolate":"monotone"},
   "encoding":{"x":{"field":"y","type":"quantitative","scale":{"domain":[-2,2],"nice":false,"zero":false},"axis":{"values":[-2,-1,0,1,2],"format":"~g","title":"y","labelOffset":{"condition":{"test":"datum.value < 0","value":-11},"value":0}}},
               "y":{"field":"f","type":"quantitative","scale":{"domain":[0,5],"nice":false},"axis":{"values":[0,1,2,3,4,5],"format":"~g","title":"f(y|x)"}}}},
  {"transform":[{"filter":"datum.s == 'lo' || datum.s == 'hi'"}],"mark":{"type":"line","color":"#00ff00","strokeWidth":3,"strokeDash":[10,7],"interpolate":"monotone"},
   "encoding":{"x":{"field":"y","type":"quantitative","scale":{"domain":[-2,2],"nice":false,"zero":false},"axis":null},"y":{"field":"f","type":"quantitative","scale":{"domain":[0,5],"nice":false},"axis":null},"detail":{"field":"s","type":"nominal"}}},
  {"transform":[{"filter":"datum.s == 'true'"}],"mark":{"type":"line","color":"#ff0000","strokeWidth":1.5,"interpolate":"monotone"},
   "encoding":{"x":{"field":"y","type":"quantitative","scale":{"domain":[-2,2],"nice":false,"zero":false},"axis":{"orient":"top","labels":false,"title":null,"values":[-2,-1,0,1,2]}},"y":{"field":"f","type":"quantitative","scale":{"domain":[0,5],"nice":false},"axis":{"orient":"right","labels":false,"title":null,"values":[0,1,2,3,4,5]}}}}
 ],
 "resolve":{"axis":{"x":"independent","y":"independent"}}},
{"width":446,"height":257,"title":{"text":"90th percentile of x=0.91"},"data":{"name":"dens"},"transform":[{"filter":"datum.p == 5"}],
 "layer":[
  {"transform":[{"filter":"datum.s == 'est'"}],"mark":{"type":"line","color":"#0000ff","strokeWidth":4,"strokeDash":[12,5,2,5],"interpolate":"monotone"},
   "encoding":{"x":{"field":"y","type":"quantitative","scale":{"domain":[-2,2],"nice":false,"zero":false},"axis":{"values":[-2,-1,0,1,2],"format":"~g","title":"y","labelOffset":{"condition":{"test":"datum.value < 0","value":-11},"value":0}}},
               "y":{"field":"f","type":"quantitative","scale":{"domain":[0,5],"nice":false},"axis":{"values":[0,1,2,3,4,5],"format":"~g","title":"f(y|x)"}}}},
  {"transform":[{"filter":"datum.s == 'lo' || datum.s == 'hi'"}],"mark":{"type":"line","color":"#00ff00","strokeWidth":3,"strokeDash":[10,7],"interpolate":"monotone"},
   "encoding":{"x":{"field":"y","type":"quantitative","scale":{"domain":[-2,2],"nice":false,"zero":false},"axis":null},"y":{"field":"f","type":"quantitative","scale":{"domain":[0,5],"nice":false},"axis":null},"detail":{"field":"s","type":"nominal"}}},
  {"transform":[{"filter":"datum.s == 'true'"}],"mark":{"type":"line","color":"#ff0000","strokeWidth":1.5,"interpolate":"monotone"},
   "encoding":{"x":{"field":"y","type":"quantitative","scale":{"domain":[-2,2],"nice":false,"zero":false},"axis":{"orient":"top","labels":false,"title":null,"values":[-2,-1,0,1,2]}},"y":{"field":"f","type":"quantitative","scale":{"domain":[0,5],"nice":false},"axis":{"orient":"right","labels":false,"title":null,"values":[0,1,2,3,4,5]}}}}
 ],
 "resolve":{"axis":{"x":"independent","y":"independent"}}},
{"width":446,"height":257,
 "layer":[
  {"data":{"name":"pts"},"mark":{"type":"point","shape":"square","filled":true,"color":"black","size":8,"opacity":1},
   "encoding":{"x":{"field":"x","type":"quantitative","scale":{"domain":[0,1],"nice":false,"zero":false},"axis":{"values":[0,0.5,1],"format":"~g","title":"x"}},
               "y":{"field":"y","type":"quantitative","scale":{"domain":[-1.3,1.3],"nice":false,"zero":false},"axis":{"values":[-1,-0.5,0,0.5,1],"format":"~g","title":"E(y|x)"}}}},
  {"data":{"name":"fit"},"transform":[{"filter":"datum.s == 'est'"}],"mark":{"type":"line","color":"#0000ff","strokeWidth":4,"strokeDash":[12,5,2,5]},
   "encoding":{"x":{"field":"x","type":"quantitative","scale":{"domain":[0,1],"nice":false,"zero":false},"axis":null},"y":{"field":"y","type":"quantitative","scale":{"domain":[-1.3,1.3],"nice":false,"zero":false},"axis":null}}},
  {"data":{"name":"fit"},"transform":[{"filter":"datum.s == 'lo' || datum.s == 'hi'"}],"mark":{"type":"line","color":"#00ff00","strokeWidth":3,"strokeDash":[10,7]},
   "encoding":{"x":{"field":"x","type":"quantitative","scale":{"domain":[0,1],"nice":false,"zero":false},"axis":null},"y":{"field":"y","type":"quantitative","scale":{"domain":[-1.3,1.3],"nice":false,"zero":false},"axis":null},"detail":{"field":"s","type":"nominal"}}},
  {"data":{"name":"fit"},"transform":[{"filter":"datum.s == 'true'"}],"mark":{"type":"line","color":"#ff0000","strokeWidth":3,"strokeDash":[10,7]},
   "encoding":{"x":{"field":"x","type":"quantitative","scale":{"domain":[0,1],"nice":false,"zero":false},"axis":{"orient":"top","labels":false,"title":null,"values":[0,0.5,1]}},"y":{"field":"y","type":"quantitative","scale":{"domain":[-1.3,1.3],"nice":false,"zero":false},"axis":{"orient":"right","labels":false,"title":null,"values":[-1,-0.5,0,0.5,1]}}}}
 ],
 "resolve":{"axis":{"x":"independent","y":"independent"}}}
]
}
